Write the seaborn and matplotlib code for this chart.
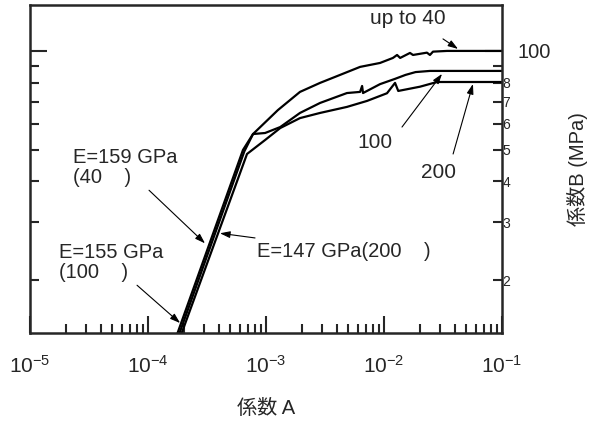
import numpy as np
import seaborn as sns
import matplotlib.pyplot as plt
from matplotlib.ticker import FixedLocator, FixedFormatter

# curve measured at 40 (top)
strain_40 = [1.78e-4, 6.38e-4, 7.76e-4, 1.26e-3, 1.94e-3, 2.87e-3, 4.24e-3, 6.27e-3,
             9.25e-3, 1.19e-2, 1.29e-2, 1.37e-2, 1.66e-2, 1.76e-2, 2.31e-2, 2.45e-2,
             2.60e-2, 3.42e-2, 1.0e-1]
stress_40 = [13.8, 49.9, 55.8, 66.0, 75.0, 79.9, 84.5, 89.4,
             91.9, 95.2, 97.2, 95.2, 98.6, 97.2, 98.8, 97.2,
             99.5, 100.0, 100.0]

# curve measured at 100 (middle)
strain_100 = [1.85e-4, 6.55e-4, 7.76e-4, 9.82e-4, 1.32e-3, 1.94e-3, 2.87e-3, 4.85e-3,
              6.27e-3, 6.52e-3, 6.64e-3, 9.25e-3, 1.24e-2, 1.52e-2, 1.85e-2, 2.45e-2, 1.0e-1]
stress_100 = [13.8, 49.4, 55.8, 56.2, 58.6, 64.7, 69.4, 74.4,
              75.0, 78.2, 74.4, 79.2, 82.2, 84.5, 86.2, 86.9, 86.9]

# curve measured at 200 (bottom)
strain_200 = [1.93e-4, 6.9e-4, 9.82e-4, 1.32e-3, 1.94e-3, 2.87e-3, 4.85e-3, 7.18e-3,
              1.06e-2, 1.24e-2, 1.32e-2, 2.02e-2, 2.81e-2, 1.0e-1]
stress_200 = [13.8, 48.5, 53.5, 58.2, 62.4, 64.7, 67.5, 70.4,
              74.3, 79.9, 75.5, 77.8, 80.4, 80.4]

x_major = [1e-5, 1e-4, 1e-3, 1e-2, 1e-1]
x_labels = [r'$\mathregular{10^{-5}}$', r'$\mathregular{10^{-4}}$', r'$\mathregular{10^{-3}}$',
            r'$\mathregular{10^{-2}}$', r'$\mathregular{10^{-1}}$']
y_major = [100]
y_minor = [20, 30, 40, 50, 60, 70, 80, 90]
y_minor_labels = ['2', '3', '4', '5', '6', '7', '8', '']

sns.set_style('ticks')
plt.rcParams['font.family'] = ['Liberation Sans', 'Noto Sans CJK JP']
plt.rcParams['mathtext.fontset'] = 'custom'
plt.rcParams['mathtext.rm'] = 'Liberation Sans'
plt.rcParams['mathtext.it'] = 'Liberation Sans:italic'

fig = plt.figure(figsize=(5.98, 4.21), dpi=100)
ax = fig.add_axes([0.0502, 0.209, 0.7893, 0.779])

for xs, ys in [(strain_40, stress_40), (strain_100, stress_100), (strain_200, stress_200)]:
    sns.lineplot(x=xs, y=ys, sort=False, estimator=None, color='black', lw=1.6, ax=ax)

ax.set_xscale('log')
ax.set_yscale('log')
ax.set_xlim(1e-5, 1e-1)
ax.set_ylim(13.8, 138)

x_minor = [k * 10.0 ** e for e in range(-5, -1) for k in range(2, 10)]
ax.xaxis.set_major_locator(FixedLocator(x_major))
ax.xaxis.set_major_formatter(FixedFormatter(x_labels))
ax.xaxis.set_minor_locator(FixedLocator(x_minor))
ax.xaxis.set_minor_formatter(FixedFormatter([''] * len(x_minor)))
ax.yaxis.set_major_locator(FixedLocator(y_major))
ax.yaxis.set_major_formatter(FixedFormatter(['100']))
ax.yaxis.set_minor_locator(FixedLocator(y_minor))
ax.yaxis.set_minor_formatter(FixedFormatter(y_minor_labels))

for s in ax.spines.values():
    s.set_linewidth(1.8)
ax.tick_params(axis='x', which='both', direction='in', bottom=True, top=False, width=1.5)
ax.tick_params(axis='x', which='major', length=12, pad=16, labelsize=15)
ax.tick_params(axis='x', which='minor', length=6.5)
ax.tick_params(axis='y', which='both', direction='in', left=True, right=True,
               labelleft=False, labelright=True, width=1.5)
ax.tick_params(axis='y', which='major', length=12, pad=11, labelsize=14.5)
ax.tick_params(axis='y', which='minor', length=6.5, pad=0.5, labelsize=10)

ax.set_xlabel('係数 A', fontsize=14.5, labelpad=16)
ax.yaxis.set_label_position('right')
ax.set_ylabel('係数B (MPa)', fontsize=14.5, labelpad=12)

arrow = dict(arrowstyle='-|>,head_length=0.6,head_width=0.2', color='black', lw=0.8,
             shrinkA=0, shrinkB=0)

ax.text(7.6e-3, 126, 'up to 40', fontsize=15, va='center', ha='left')
ax.annotate('', xy=(4.24e-2, 101.4), xytext=(3.16e-2, 108.8), arrowprops=arrow)
ax.text(8.4e-3, 52.4, '100', fontsize=15, va='center', ha='center')
ax.annotate('', xy=(3.1e-2, 85.1), xytext=(1.42e-2, 58.6), arrowprops=arrow)
ax.text(2.92e-2, 42.7, '200', fontsize=15, va='center', ha='center')
ax.annotate('', xy=(5.67e-2, 79.3), xytext=(3.85e-2, 48.5), arrowprops=arrow)

ax.text(2.31e-5, 50.6, 'E=159 GPa\n(40    )', fontsize=14.5, va='top', ha='left', linespacing=1.05)
ax.annotate('', xy=(3.04e-4, 25.9), xytext=(1.02e-4, 37.6), arrowprops=arrow)
ax.text(1.76e-5, 25.9, 'E=155 GPa\n(100    )', fontsize=14.5, va='top', ha='left', linespacing=1.05)
ax.annotate('', xy=(1.87e-4, 14.8), xytext=(8.07e-5, 19.3), arrowprops=arrow)
ax.text(8.4e-4, 24.5, 'E=147 GPa(200    )', fontsize=14.5, va='center', ha='left')
ax.annotate('', xy=(4.07e-4, 27.8), xytext=(8.07e-4, 26.9), arrowprops=arrow)

fig.savefig('out.png', dpi=100)
